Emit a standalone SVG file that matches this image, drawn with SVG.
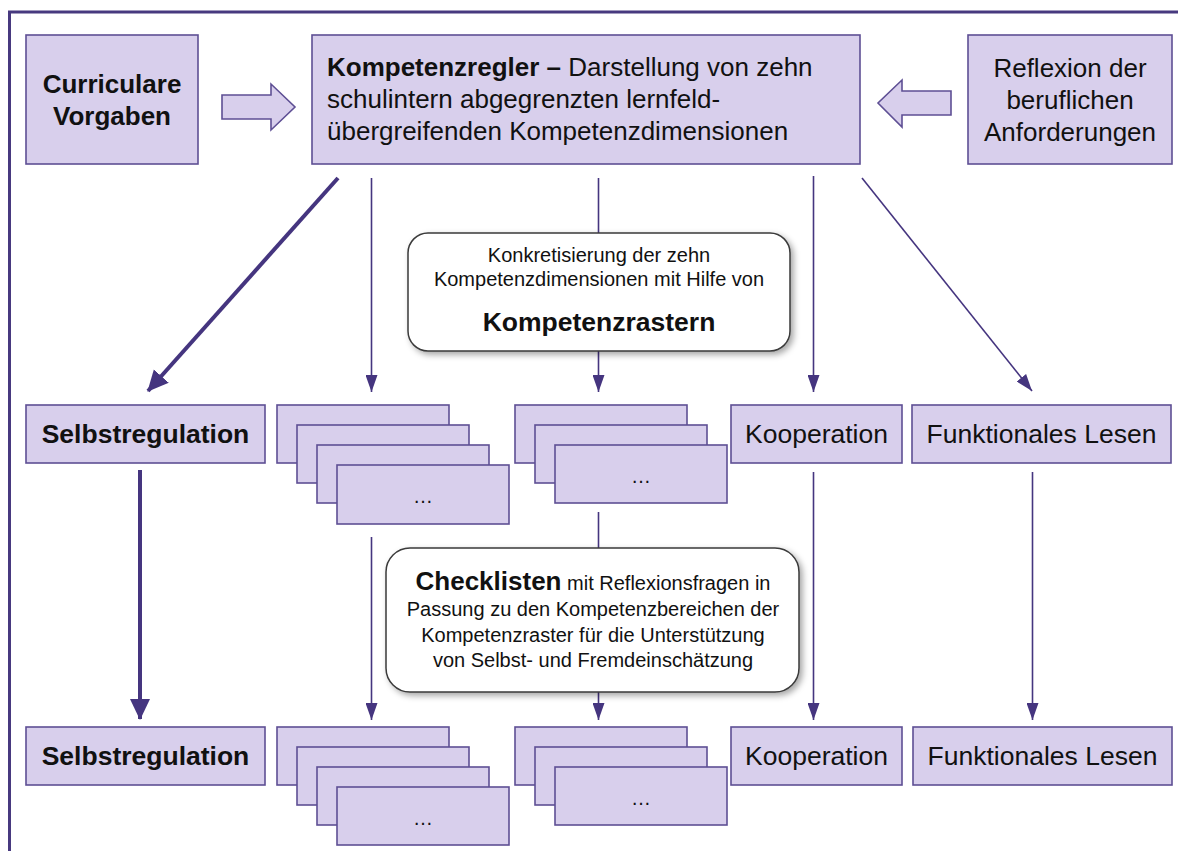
<svg xmlns="http://www.w3.org/2000/svg" width="1178" height="851" viewBox="0 0 1178 851">
  <style>
    .box { fill: #d8cfec; stroke: #5e4f94; stroke-width: 1.6; }
    .note { fill: #ffffff; stroke: #3a3a3a; stroke-width: 1.5; }
    .t { font-family: "Liberation Sans", Arial, sans-serif; fill: #111111; }
    .b { font-weight: bold; }
    .thin { stroke: #45357f; stroke-width: 1.6; fill: none; }
    .thick { stroke: #45357f; stroke-width: 4; fill: none; }
  </style>
  <defs>
    <marker id="tipThin" markerUnits="userSpaceOnUse" markerWidth="18" markerHeight="12" viewBox="0 0 18 12" refX="17" refY="6" orient="auto">
      <path d="M0,0 L17,6 L0,12 Z" fill="#45357f"/>
    </marker>
    <marker id="tipThick" markerUnits="userSpaceOnUse" markerWidth="22" markerHeight="22" viewBox="0 0 22 22" refX="20" refY="11" orient="auto">
      <path d="M0,1 L21,11 L0,21 Z" fill="#45357f"/>
    </marker>
    <filter id="shadow" x="-10%" y="-10%" width="125%" height="130%">
      <feDropShadow dx="3" dy="3" stdDeviation="3" flood-color="#000000" flood-opacity="0.35"/>
    </filter>
  </defs>

  <!-- outer frame -->
  <rect x="9.5" y="12" width="1200" height="900" fill="none" stroke="#47397f" stroke-width="3"/>

  <!-- connectors -->
  <g id="connectors">
    <line class="thick" x1="338" y1="178" x2="148" y2="391" marker-end="url(#tipThick)"/>
    <line class="thick" x1="140" y1="470" x2="140" y2="719" marker-end="url(#tipThick)"/>
    <line class="thin" x1="371.5" y1="178" x2="371.5" y2="392" marker-end="url(#tipThin)"/>
    <line class="thin" x1="598.5" y1="178" x2="598.5" y2="233"/>
    <line class="thin" x1="598.5" y1="351" x2="598.5" y2="392" marker-end="url(#tipThin)"/>
    <line class="thin" x1="813.5" y1="176" x2="813.5" y2="392" marker-end="url(#tipThin)"/>
    <line class="thin" x1="862" y1="178" x2="1032" y2="391" marker-end="url(#tipThin)"/>
    <line class="thin" x1="371.5" y1="537" x2="371.5" y2="720" marker-end="url(#tipThin)"/>
    <line class="thin" x1="598.5" y1="512" x2="598.5" y2="548"/>
    <line class="thin" x1="598.5" y1="692" x2="598.5" y2="720" marker-end="url(#tipThin)"/>
    <line class="thin" x1="813.5" y1="472" x2="813.5" y2="720" marker-end="url(#tipThin)"/>
    <line class="thin" x1="1032.5" y1="472" x2="1032.5" y2="720" marker-end="url(#tipThin)"/>
    <polygon class="box" points="222,95 271,95 271,84 295,107 271,130 271,119 222,119"/>
    <polygon class="box" points="951,91 902,91 902,80 878,103 902,127 902,115 951,115"/>
  </g>

  <!-- top row -->
  <g id="curriculare">
    <rect class="box" x="26" y="35" width="172" height="129"/>
    <text class="t b" font-size="26" text-anchor="middle"><tspan x="112" y="93">Curriculare</tspan><tspan x="112" y="125">Vorgaben</tspan></text>
  </g>
  <g id="kompetenzregler">
    <rect class="box" x="312" y="35" width="548" height="129"/>
    <text class="t" font-size="26"><tspan x="327" y="76"><tspan class="b">Kompetenzregler –</tspan> Darstellung von zehn</tspan><tspan x="327" y="108">schulintern abgegrenzten lernfeld-</tspan><tspan x="327" y="140">übergreifenden Kompetenzdimensionen</tspan></text>
  </g>
  <g id="reflexion">
    <rect class="box" x="968" y="35" width="204" height="129"/>
    <text class="t" font-size="26" text-anchor="middle"><tspan x="1070" y="77">Reflexion der</tspan><tspan x="1070" y="109">beruflichen</tspan><tspan x="1070" y="141">Anforderungen</tspan></text>
  </g>

  <!-- Kompetenzraster note -->
  <g id="kompetenzraster">
    <rect class="note" x="408" y="233" width="382" height="118" rx="20" filter="url(#shadow)"/>
    <text class="t" font-size="20" text-anchor="middle"><tspan x="599" y="262">Konkretisierung der zehn</tspan><tspan x="599" y="286">Kompetenzdimensionen mit Hilfe von</tspan></text>
    <text class="t b" font-size="26.5" text-anchor="middle" x="599" y="331">Kompetenzrastern</text>
  </g>

  <!-- middle row -->
  <g id="selbstregulation-1">
    <rect class="box" x="26" y="405" width="239" height="58"/>
    <text class="t b" font-size="26.5" text-anchor="middle" x="145.5" y="443">Selbstregulation</text>
  </g>
  <g id="stack-a-1">
    <rect class="box" x="277" y="405" width="172" height="58"/>
    <rect class="box" x="297" y="425" width="172" height="58"/>
    <rect class="box" x="317" y="445" width="172" height="58"/>
    <rect class="box" x="337" y="465" width="172" height="59"/>
    <text class="t" font-size="20" text-anchor="middle" x="423" y="503">…</text>
  </g>
  <g id="stack-b-1">
    <rect class="box" x="515" y="405" width="172" height="58"/>
    <rect class="box" x="535" y="425" width="172" height="58"/>
    <rect class="box" x="555" y="445" width="172" height="58"/>
    <text class="t" font-size="20" text-anchor="middle" x="641" y="483">…</text>
  </g>
  <g id="kooperation-1">
    <rect class="box" x="731" y="405" width="171" height="58"/>
    <text class="t" font-size="26.5" text-anchor="middle" x="816.5" y="443">Kooperation</text>
  </g>
  <g id="lesen-1">
    <rect class="box" x="912" y="405" width="259" height="58"/>
    <text class="t" font-size="26.5" text-anchor="middle" x="1041.5" y="443">Funktionales Lesen</text>
  </g>

  <!-- Checklisten note -->
  <g id="checklisten">
    <rect class="note" x="386" y="548" width="413" height="144" rx="24" filter="url(#shadow)"/>
    <text class="t" font-size="20" text-anchor="middle"><tspan x="593" y="590"><tspan class="b" font-size="26">Checklisten</tspan> mit Reflexionsfragen in</tspan><tspan x="593" y="616">Passung zu den Kompetenzbereichen der</tspan><tspan x="593" y="642">Kompetenzraster für die Unterstützung</tspan><tspan x="593" y="667">von Selbst- und Fremdeinschätzung</tspan></text>
  </g>

  <!-- bottom row -->
  <g id="selbstregulation-2">
    <rect class="box" x="26" y="727" width="239" height="58"/>
    <text class="t b" font-size="26.5" text-anchor="middle" x="145.5" y="765">Selbstregulation</text>
  </g>
  <g id="stack-a-2">
    <rect class="box" x="277" y="727" width="172" height="58"/>
    <rect class="box" x="297" y="747" width="172" height="58"/>
    <rect class="box" x="317" y="767" width="172" height="58"/>
    <rect class="box" x="337" y="787" width="172" height="58"/>
    <text class="t" font-size="20" text-anchor="middle" x="423" y="825">…</text>
  </g>
  <g id="stack-b-2">
    <rect class="box" x="515" y="727" width="172" height="58"/>
    <rect class="box" x="535" y="747" width="172" height="58"/>
    <rect class="box" x="555" y="767" width="172" height="58"/>
    <text class="t" font-size="20" text-anchor="middle" x="641" y="805">…</text>
  </g>
  <g id="kooperation-2">
    <rect class="box" x="731" y="727" width="171" height="58"/>
    <text class="t" font-size="26.5" text-anchor="middle" x="816.5" y="765">Kooperation</text>
  </g>
  <g id="lesen-2">
    <rect class="box" x="913" y="727" width="259" height="58"/>
    <text class="t" font-size="26.5" text-anchor="middle" x="1042.5" y="765">Funktionales Lesen</text>
  </g>
</svg>
